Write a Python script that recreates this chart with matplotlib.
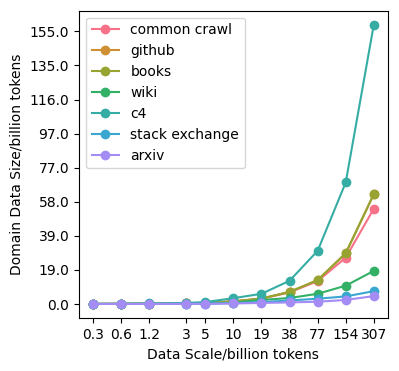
import matplotlib
matplotlib.use("Agg")
import matplotlib.pyplot as plt
import seaborn as sns
import numpy as np
from matplotlib.ticker import NullLocator

# data scale (billion tokens) and per-domain sizes
scale = [0.3, 0.6, 1.2, 3, 4.8, 9.6, 19.2, 38.4, 76.8, 153.6, 307.2]
scale_labels = ['0.3', '0.6', '1.2', '3', '5', '10', '19', '38', '77', '154', '307']

common_crawl = [0.05, 0.1, 0.2, 0.4, 0.6, 1.5, 3.0, 6.6, 13.0, 26.3, 54.1]
github = [0.05, 0.1, 0.2, 0.4, 0.6, 1.5, 3.1, 6.8, 13.5, 28.7, 62.3]
books = [0.05, 0.1, 0.2, 0.4, 0.6, 1.5, 3.1, 6.9, 13.6, 28.9, 62.4]
wiki = [0.03, 0.05, 0.1, 0.2, 0.3, 0.8, 2.3, 3.4, 5.8, 10.4, 18.8]
c4 = [0.1, 0.15, 0.3, 0.6, 1.1, 3.3, 5.8, 13.2, 30.2, 69.0, 158.6]
stack_exchange = [0.02, 0.03, 0.06, 0.1, 0.2, 0.5, 1.1, 2.0, 3.0, 4.3, 7.3]
arxiv = [0.01, 0.02, 0.04, 0.08, 0.1, 0.3, 0.6, 0.9, 1.3, 2.3, 4.5]

domains = {
    'common crawl': common_crawl,
    'github': github,
    'books': books,
    'wiki': wiki,
    'c4': c4,
    'stack exchange': stack_exchange,
    'arxiv': arxiv,
}

y_tick_labels = ['0.0', '19.0', '39.0', '58.0', '77.0', '97.0', '116.0', '135.0', '155.0']

colors = sns.color_palette("husl", 8)[:7]

fig, ax = plt.subplots(figsize=(3.99, 3.71), dpi=100)
fig.subplots_adjust(left=0.198, right=0.972, top=0.971, bottom=0.143)

for (name, vals), c in zip(domains.items(), colors):
    ax.plot(scale, vals, marker='o', color=c, label=name)

ax.set_xscale('log')
ax.set_xticks(scale)
ax.set_xticklabels(scale_labels)
ax.xaxis.set_minor_locator(NullLocator())

ax.set_yticks(np.linspace(0, 154.8, len(y_tick_labels)))
ax.set_yticklabels(y_tick_labels)

ax.set_xlabel('Data Scale/billion tokens')
ax.set_ylabel('Domain Data Size/billion tokens')
ax.legend(loc='upper left')

fig.savefig('out.png')
